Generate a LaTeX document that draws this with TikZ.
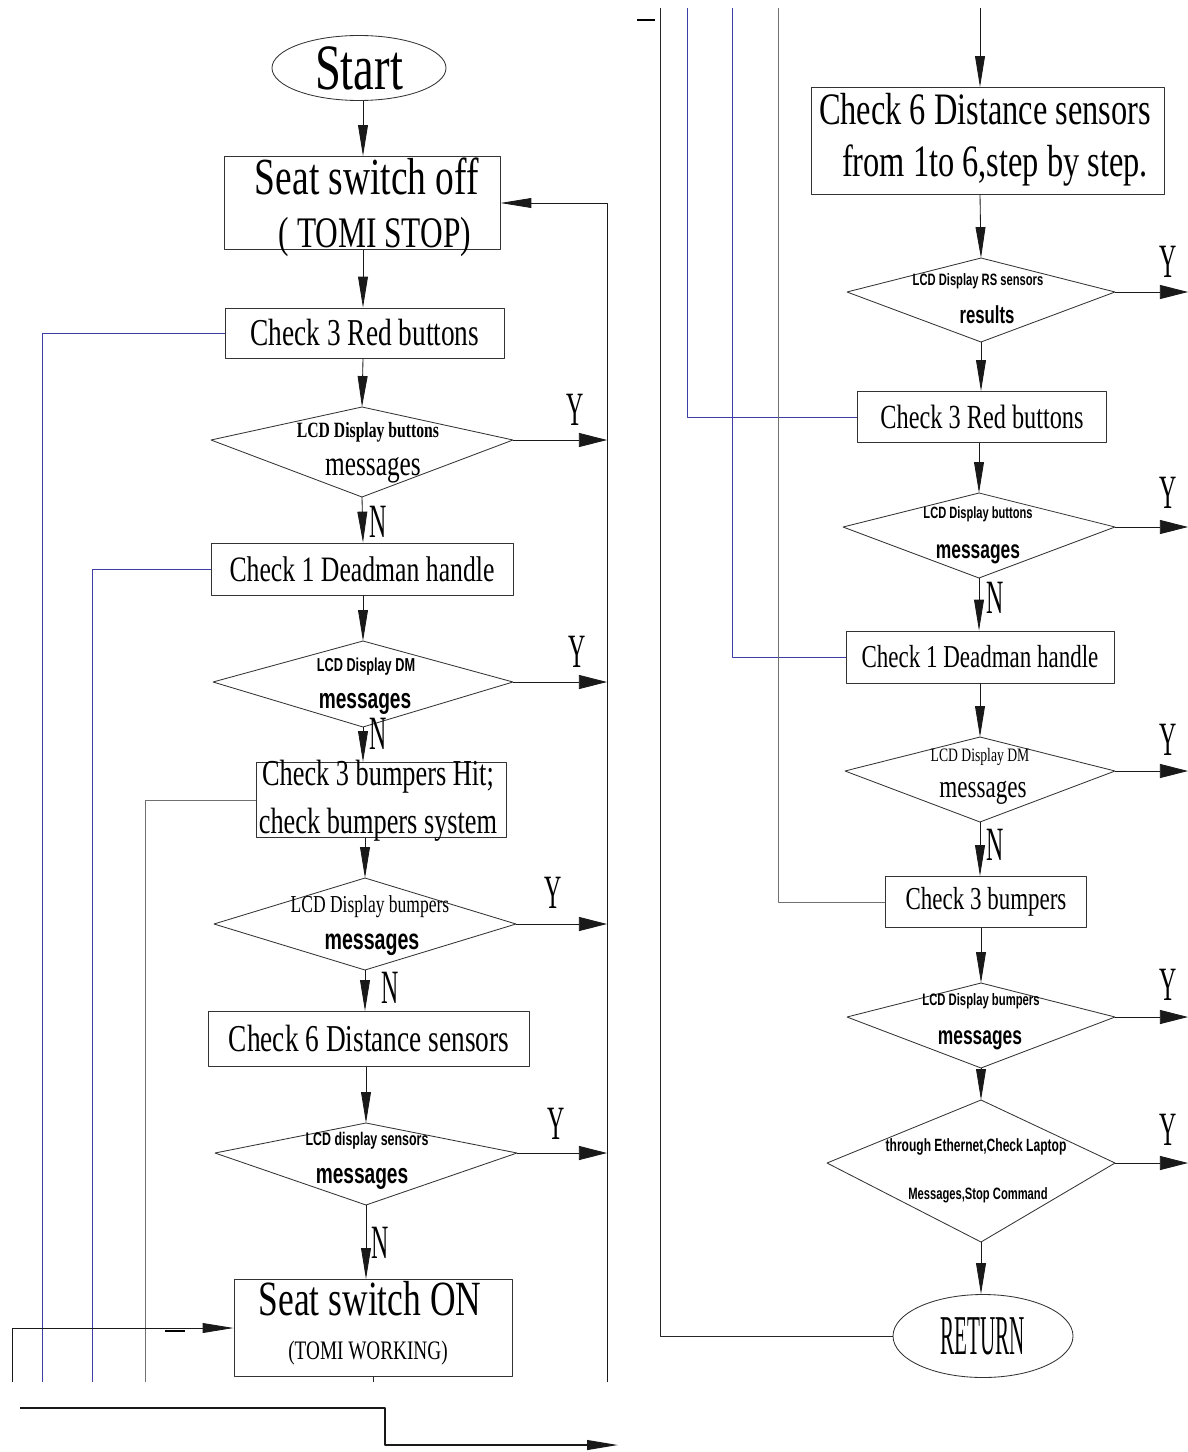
\documentclass[tikz,border=0pt]{standalone}
\usepackage{fontspec}
\usepackage{graphicx}
\usetikzlibrary{shapes.geometric, arrows.meta}
\newfontfamily\cnserif[FakeStretch=0.72]{Liberation Serif}
\newfontfamily\cncaps[FakeStretch=0.5]{Liberation Serif}
\newfontfamily\cnsans[FakeStretch=0.68]{Liberation Sans}
\newcommand{\fs}[2]{\fontsize{#1}{#2}\selectfont}
\definecolor{fbblue}{RGB}{62,62,168}
\definecolor{fbgray}{RGB}{112,112,112}
\tikzset{
  box/.style 2 args={draw=black!80, line width=0.6pt, minimum width=#1*0.025cm, minimum height=#2*0.025cm, inner sep=0pt, align=center},
  term/.style 2 args={draw=black!80, line width=0.6pt, ellipse, minimum width=#1*0.025cm, minimum height=#2*0.025cm, inner sep=0pt},
  tline/.style={inner sep=0pt, anchor=base},
  dline/.style={draw=black!80, line width=0.6pt},
  flow/.style={black!90, line width=0.6pt, -{Triangle[length=22pt,width=7pt]}},
  yarrow/.style={black!90, line width=0.6pt, -{Triangle[length=20pt,width=10pt]}},
  yn/.style={font=\cncaps\fs{34}{34}, inner sep=0pt},
  dtxt/.style={inner sep=0pt}
}
% decision: name, top x, top y, tip y, bottom y, left x, right x
\newcommand{\decision}[7]{%
  \coordinate (#1-n) at (#2,#3);
  \coordinate (#1-s) at (#2,#5);
  \coordinate (#1-w) at (#6,#4);
  \coordinate (#1-e) at (#7,#4);
  \draw[dline] (#1-n) -- (#1-e) -- (#1-s) -- (#1-w) -- cycle;}

\begin{document}
\begin{tikzpicture}[x=0.025cm,y=-0.025cm,line join=round]
\useasboundingbox (0,0) rectangle (1188,1452);
\coordinate (colL) at (363,0);
\coordinate (colR) at (980,0);
\coordinate (busL) at (607,0);
\coordinate (busR) at (1188,0);

% ---- left column ----
\node[term={174}{65}, font=\cnserif\fs{46}{46}] (start) at (359,68) {Start};
\node[box={276}{93}] (b1) at (362,203) {};
\node[tline, font=\cnserif\fs{37}{40}] (b1a) at (367,194) {Seat switch off};
\node[tline, font=\cnserif\fs{31}{34}] (b1b) at (375,247) {(\ TOMI STOP)};
\node[box={279}{50}, font=\cnserif\fs{27}{30}] (b2) at (365,333) {Check 3 Red buttons};
\decision{d1}{362}{407}{440}{497}{211}{513}
\node[dtxt, font=\cnserif\bfseries\fs{15.5}{16}] (d1a) at (368,432) {LCD Display buttons};
\node[dtxt, font=\cnserif\fs{25}{25}] (d1b) at (373,470) {messages};
\node[box={302}{52}, font=\cnserif\fs{25.4}{30}] (b3) at (362,569) {Check 1 Deadman handle};
\decision{d2}{363}{641}{682}{727}{213}{513}
\node[dtxt, font=\cnsans\bfseries\fs{13.3}{14}] (d2a) at (366,667) {LCD Display DM};
\node[dtxt, font=\cnsans\bfseries\fs{20}{20}] (d2b) at (365,704) {messages};
\node[box={250}{75}] (b4) at (381,800) {};
\node[tline, font=\cnserif\fs{26}{30}] (b4a) at (378,785) {Check 3 bumpers Hit;};
\node[tline, font=\cnserif\fs{26}{30}] (b4b) at (378,833) {check bumpers system};
\decision{d3}{365}{878}{924}{970}{214}{516}
\node[dtxt, font=\cnserif\fs{17.3}{18}] (d3a) at (370,907) {LCD Display bumpers};
\node[dtxt, font=\cnsans\bfseries\fs{20.5}{21}] (d3b) at (372,945) {messages};
\node[box={321}{55}, font=\cnserif\fs{27}{30}] (b5) at (369,1039) {Check 6 Distance sensors};
\decision{d4}{366}{1123}{1153}{1205}{215}{517}
\node[dtxt, font=\cnsans\bfseries\fs{13}{14}] (d4a) at (367,1141) {LCD display sensors};
\node[dtxt, font=\cnsans\bfseries\fs{20}{20}] (d4b) at (362,1179) {messages};
\node[box={278}{97}] (b6) at (373,1328) {};
\node[tline, font=\cnserif\fs{35}{38}] (b6a) at (370,1315) {Seat switch ON};
\node[tline, font=\cnserif\fs{19}{22}] (b6b) at (368,1359) {(TOMI WORKING)};

\draw[flow] (start.south -| colL) -- (b1.north -| colL);
\draw[flow] (b1.south -| colL) -- (b2.north -| colL);
\draw[flow] (b2.south -| colL) -- (d1-n);
\draw[flow] (d1-s) -- (b3.north -| colL);
\draw[flow] (b3.south -| colL) -- (d2-n);
\draw[flow] (d2-s) -- (b4.north -| colL);
\draw[flow] (b4.south -| d3-n) -- (d3-n);
\draw[flow] (d3-s) -- (b5.north -| d3-s);
\draw[flow] (b5.south -| d4-n) -- (d4-n);
\draw[flow] (d4-s) -- (b6.north -| d4-s);

\node[yn] (n1) at (378,522) {N};
\node[yn] (n2) at (378,734) {N};
\node[yn] (n3) at (390,988) {N};
\node[yn] (n4) at (380,1243) {N};
\node[yn] (y1) at (575,410) {Y};
\node[yn] (y2) at (577,652) {Y};
\node[yn] (y3) at (553,893) {Y};
\node[yn] (y4) at (556,1124) {Y};
\draw[yarrow] (d1-e) -- (d1-e -| busL);
\draw[yarrow] (d2-e) -- (d2-e -| busL);
\draw[yarrow] (d3-e) -- (d3-e -| busL);
\draw[yarrow] (d4-e) -- (d4-e -| busL);

% loop back and feedback lines
\coordinate (cut) at (0,1382);
\draw[flow] (cut -| busL) |- (b1.east);
\draw[black!85, line width=0.6pt] (b6.south) -- (b6.south |- cut);
\draw[fbblue, line width=0.6pt] (b2.west) -| (cut -| 42,0);
\draw[fbblue, line width=0.6pt] (b3.west) -| (cut -| 92,0);
\draw[fbgray, line width=0.6pt] (b4.west) -| (cut -| 145,0);
\draw[flow] (cut -| 12,0) |- (b6.west);
\draw[line width=1.3pt] (165,1331) -- (185,1331);

\coordinate (outA) at (20,1408);
\coordinate (outB) at (618,1445);
\draw[flow, line width=1pt] (outA) -- ++(365,0) |- (outB);

% ---- right column ----
\coordinate (topR) at (0,8);
\node[box={353}{107}] (c1) at (988,141) {};
\node[tline, font=\cnserif\fs{32}{35}] (c1a) at (985,125) {Check 6 Distance sensors};
\node[tline, font=\cnserif\fs{32}{35}] (c1b) at (995,177) {from 1to 6,step by step.};
\decision{r1}{981}{258}{292}{342}{847}{1115}
\node[dtxt, font=\cnsans\bfseries\fs{11.7}{12}] (r1a) at (978,281) {LCD Display RS sensors};
\node[dtxt, font=\cnsans\bfseries\fs{17.5}{18}] (r1b) at (987,315) {results};
\node[box={249}{51}, font=\cnserif\fs{24}{28}] (c2) at (982,417) {Check 3 Red buttons};
\decision{r2}{979}{493}{527}{578}{843}{1115}
\node[dtxt, font=\cnsans\bfseries\fs{11.6}{12}] (r2a) at (978,514) {LCD Display buttons};
\node[dtxt, font=\cnsans\bfseries\fs{18.2}{19}] (r2b) at (978,554) {messages};
\node[box={268}{52}, font=\cnserif\fs{22.7}{27}] (c3) at (980,657) {Check 1 Deadman handle};
\decision{r3}{980}{737}{771}{822}{845}{1115}
\node[dtxt, font=\cnserif\fs{13.5}{14}] (r3a) at (980,757) {LCD Display DM};
\node[dtxt, font=\cnserif\fs{22.8}{23}] (r3b) at (983,793) {messages};
\node[box={201}{51}, font=\cnserif\fs{22.7}{27}] (c4) at (986,902) {Check 3 bumpers};
\decision{r4}{981}{983}{1017}{1068}{847}{1115}
\node[dtxt, font=\cnsans\bfseries\fs{11.8}{12}] (r4a) at (981,1001) {LCD Display bumpers};
\node[dtxt, font=\cnsans\bfseries\fs{18.2}{19}] (r4b) at (980,1040) {messages};
\decision{r5}{981}{1100}{1163}{1242}{827}{1115}
\node[dtxt, font=\cnsans\bfseries\fs{12.6}{13}] (r5a) at (976,1147) {through Ethernet,Check Laptop};
\node[dtxt, font=\cnsans\bfseries\fs{11.7}{12}] (r5b) at (978,1195) {Messages,Stop Command};
\node[term={180}{83}, font=\cncaps\fs{40}{40}] (ret) at (983,1336) {\scalebox{0.75}[1]{RETURN}};

\draw[flow] (topR -| colR) -- (c1.north -| colR);
\draw[flow] (c1.south -| colR) -- (r1-n);
\draw[flow] (r1-s) -- (c2.north -| r1-s);
\draw[flow] (c2.south -| r2-n) -- (r2-n);
\draw[flow] (r2-s) -- (c3.north -| r2-s);
\draw[flow] (c3.south -| r3-n) -- (r3-n);
\draw[flow] (r3-s) -- (c4.north -| r3-s);
\draw[flow] (c4.south -| r4-n) -- (r4-n);
\draw[flow] (r4-s) -- (r5-n);
\draw[flow] (r5-s) -- (ret.north -| r5-s);

\node[yn] (nr1) at (995,598) {N};
\node[yn] (nr2) at (995,845) {N};
\node[yn] (yr1) at (1168,262) {Y};
\node[yn] (yr2) at (1168,493) {Y};
\node[yn] (yr3) at (1168,740) {Y};
\node[yn] (yr4) at (1168,985) {Y};
\node[yn] (yr5) at (1168,1130) {Y};
\draw[yarrow] (r1-e) -- (r1-e -| busR);
\draw[yarrow] (r2-e) -- (r2-e -| busR);
\draw[yarrow] (r3-e) -- (r3-e -| busR);
\draw[yarrow] (r4-e) -- (r4-e -| busR);
\draw[yarrow] (r5-e) -- (r5-e -| busR);

\draw[black!85, line width=0.6pt] (topR -| 660,0) |- (ret.west);
\draw[fbblue, line width=0.6pt] (topR -| 687,0) |- (c2.west);
\draw[fbblue, line width=0.6pt] (topR -| 732,0) |- (c3.west);
\draw[fbgray, line width=0.6pt] (topR -| 778,0) |- (c4.west);
\draw[line width=1.3pt] (637,20) -- (655,20);
\end{tikzpicture}
\end{document}
